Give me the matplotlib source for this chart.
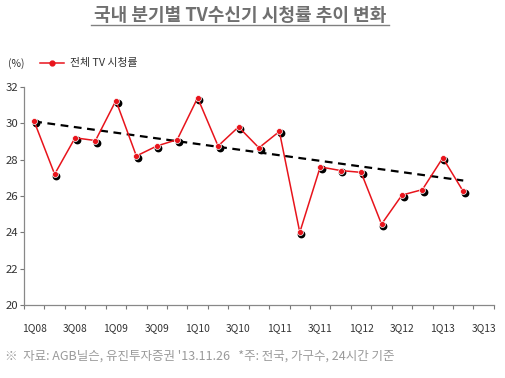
import numpy as np
import matplotlib
matplotlib.use("Agg")
import matplotlib.pyplot as plt
from matplotlib.lines import Line2D
from matplotlib.transforms import offset_copy

plt.rcParams['font.family'] = ['Noto Sans CJK KR', 'DejaVu Sans']

quarters = ['1Q08', '2Q08', '3Q08', '4Q08', '1Q09', '2Q09', '3Q09', '4Q09',
            '1Q10', '2Q10', '3Q10', '4Q10', '1Q11', '2Q11', '3Q11', '4Q11',
            '1Q12', '2Q12', '3Q12', '4Q12', '1Q13', '2Q13', '3Q13']
ratings = [30.1, 27.2, 29.2, 29.05, 31.25, 28.2, 28.75, 29.1,
           31.4, 28.75, 29.8, 28.65, 29.55, 24.0, 27.6, 27.4,
           27.3, 24.45, 26.05, 26.35, 28.1, 26.25]
# trend line end values (first and last quarter with data)
trend = [30.1, 26.85]
tick_labels = quarters[::2]

fig = plt.figure(figsize=(5.05, 3.78), dpi=100)
ax = fig.add_axes([0.0475, 0.193, 0.9305, 0.577])

x = np.arange(len(ratings))
# shadow markers, then red line with red dots
shadow = offset_copy(ax.transData, fig=fig, x=1.2, y=-1.4, units='points')
ax.plot(x, ratings, 'o', color='black', ms=4.6, transform=shadow, zorder=3)
ax.plot(x, ratings, '-', color='#e8141c', lw=1.1, zorder=4)
ax.plot(x, ratings, 'o', color='#e8141c', mec='white', mew=0.5, ms=4.3, zorder=5)

# trend line
ax.plot([x[0], x[-1]], trend, '--', color='black', lw=1.6, dashes=(3.5, 2.5), zorder=2)

ax.set_xlim(-0.5, len(quarters) - 0.5)
ax.set_ylim(20, 32)
ax.set_yticks(np.arange(20, 33, 2))
ax.set_xticks(np.arange(0, len(quarters), 2))
ax.set_xticklabels(tick_labels)
ax.set_xticks(np.arange(-0.5, len(quarters), 1), minor=True)
ax.tick_params(axis='x', which='major', length=0, pad=13, labelsize=7.4, colors='#333333')
ax.tick_params(axis='x', which='minor', length=3, width=0.8, color='#777777', direction='out')
ax.tick_params(axis='y', length=3, width=0.8, color='#777777', labelsize=8.2,
               labelcolor='#333333', pad=1)
for s in ['top', 'right']:
    ax.spines[s].set_visible(False)
for s in ['left', 'bottom']:
    ax.spines[s].set_color('#888888')
    ax.spines[s].set_linewidth(0.9)

# title with underline
fig.text(0.476, 0.958, '국내 분기별 TV수신기 시청률 추이 변화', ha='center', va='center',
         fontsize=13, color='#707070', fontweight='bold')
fig.add_artist(Line2D([0.180, 0.771], [0.934, 0.934], color='#808080', lw=1.0))

# unit and legend
fig.text(0.016, 0.833, '(%)', fontsize=7.5, color='#333333', va='center')
fig.add_artist(Line2D([0.079, 0.127], [0.833, 0.833], color='#e8141c', lw=1.1))
fig.add_artist(Line2D([0.103], [0.833], marker='o', color='#e8141c', ms=3.5))
fig.text(0.138, 0.833, '전체 TV 시청률', fontsize=7.8, color='#333333', va='center')

# source note
fig.text(0.01, 0.057, "※  자료: AGB닐슨, 유진투자증권 '13.11.26   *주: 전국, 가구수, 24시간 기준",
         fontsize=9, color='#9a9a9a', va='center')

fig.savefig('out.png', dpi=100)
